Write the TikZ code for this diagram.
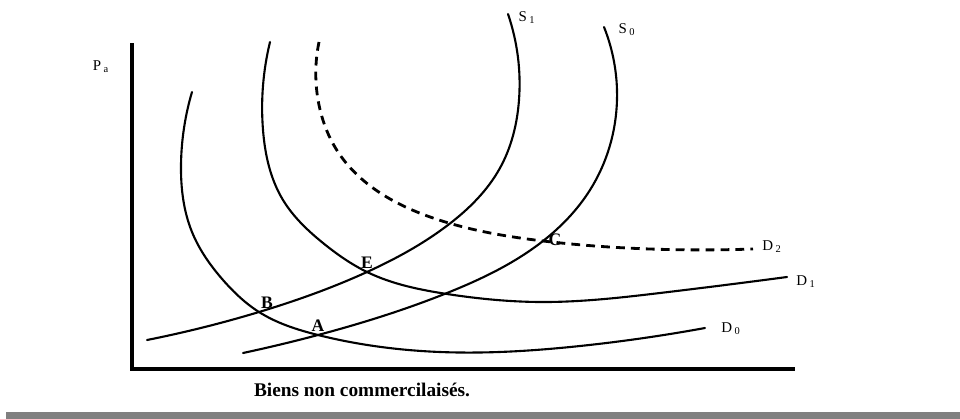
\documentclass[tikz,border=0pt]{standalone}
\usepackage{fontspec}
\setmainfont{Liberation Serif}
\usepackage{tikz}
\usetikzlibrary{positioning,hobby}
\definecolor{bandgray}{RGB}{128,128,128}

\begin{document}
\begin{tikzpicture}[x=0.02cm, y=-0.02cm, use Hobby shortcut,
  curve/.style={line width=1.2pt, line cap=round},
  dcurve/.style={line width=1.6pt, dash pattern=on 5pt off 3.5pt},
  axis/.style={line width=1.8pt},
  pt/.style={inner sep=0pt, font=\fontsize{10}{12}\selectfont\bfseries},
  tag/.style={inner sep=0pt, font=\fontsize{8.5}{10}\selectfont}]
\useasboundingbox (0,0) rectangle (960,419);
\fill[bandgray] (6,412) rectangle (960,419);

% axes
\coordinate (o) at (132,369);
\coordinate (ytop) at (132,43);
\coordinate (xend) at (795,369);
\draw[axis] (ytop) -- (o) -- (xend);
\node[tag] (pa) at (101,67) {P\,\textsubscript{a}};
\node[inner sep=0pt, font=\fontsize{11}{13}\selectfont\bfseries] (xlab) at (362,390) {Biens non commercilaisés.};

% equilibrium points
\coordinate (A) at (318,335);
\coordinate (B) at (259,312);
\coordinate (C) at (543,241);
\coordinate (E) at (367,272);

% demand curves
\draw[curve] (192,92) .. (181,165) .. (192,232) .. (223,280) .. (B) .. (A) .. (440,352) .. (580,346) .. (705,328);
\draw[curve] (270,42) .. (263,130) .. (283,200) .. (323,243) .. (E) .. (447,294) .. (540,302) .. (660,293) .. (787,277);
\draw[dcurve] (319,42) .. (319,105) .. (338,152) .. (373,188) .. (433,218) .. (C) .. (650,249) .. (753,249);

% supply curves
\draw[curve] (147,340) .. (B) .. (E) .. (448,225) .. (500,168) .. (519,100) .. (508,14);
\draw[curve] (243,353) .. (A) .. (447,293) .. (C) .. (590,190) .. (617,100) .. (604,27);

% curve names
\node[tag] (s1) at (527,18) {S\,\textsubscript{1}};
\node[tag] (s0) at (627,30) {S\,\textsubscript{0}};
\node[tag] (d2) at (772,247) {D\,\textsubscript{2}};
\node[tag] (d1) at (806,282) {D\,\textsubscript{1}};
\node[tag] (d0) at (731,329) {D\,\textsubscript{0}};

% point names
\node[pt] (la) at (318,326) {A};
\node[pt] (lb) at (267,303) {B};
\node[pt] (lc) at (555,240) {C};
\node[pt] (le) at (367,263) {E};
\end{tikzpicture}
\end{document}
